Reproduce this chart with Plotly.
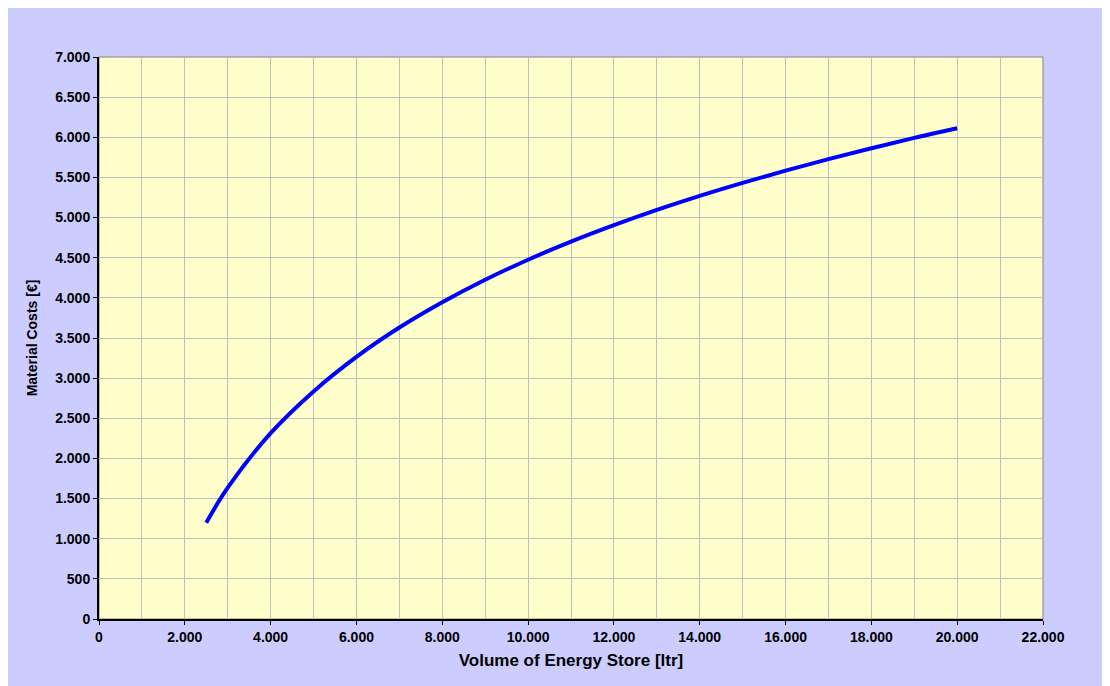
import plotly.graph_objects as go

# Data
volume_ltr = [2500, 3000, 4000, 5000, 6000, 7000, 8000, 9000, 10000, 11000,
              12000, 13000, 14000, 15000, 16000, 17000, 18000, 19000, 20000]
material_costs = [1200, 1635, 2315, 2835, 3265, 3630, 3945, 4225, 4475, 4700,
                  4905, 5095, 5270, 5432, 5585, 5728, 5863, 5992, 6113]

x_tick_values = list(range(0, 22001, 2000))
y_tick_values = list(range(0, 7001, 500))


def fmt(v):
    return f"{v:,}".replace(",", ".")


x_tick_text = [fmt(v) for v in x_tick_values]
y_tick_text = [fmt(v) for v in y_tick_values]

W, H = 1102, 678
L, R, T, B = 91, 67, 49, 67

FONT = "Liberation Sans, Arial, sans-serif"

fig = go.Figure()
fig.add_trace(go.Scatter(
    x=volume_ltr, y=material_costs, mode="lines",
    line=dict(color="#0000FF", width=4, shape="spline", smoothing=1.0),
    hoverinfo="x+y", showlegend=False,
))

shapes = [
    dict(type="rect", xref="paper", yref="paper",
         x0=0, x1=1, y0=0, y1=1,
         line=dict(color="#808080", width=1), layer="below"),
]

fig.update_layout(
    width=W, height=H,
    margin=dict(l=L, r=R, t=T, b=B),
    paper_bgcolor="#CCCCFF",
    plot_bgcolor="#FFFFCC",
    font=dict(family=FONT, color="black"),
    shapes=shapes,
    showlegend=False,
)

fig.update_xaxes(
    range=[0, 22000],
    tickmode="array", tickvals=x_tick_values, ticktext=x_tick_text,
    tickfont=dict(family=FONT, size=14, color="black", weight="bold"),
    ticks="outside", ticklen=4, tickcolor="black", tickwidth=1,
    showline=True, linecolor="black", linewidth=2,
    showgrid=True, gridcolor="#C0C0C0", gridwidth=1,
    minor=dict(tickmode="linear", tick0=0, dtick=1000, showgrid=True,
               gridcolor="#C0C0C0", gridwidth=1, ticks=""),
    zeroline=False,
    title=dict(text="Volume of Energy Store [ltr]",
               font=dict(family=FONT, size=17, color="black", weight="bold"),
               standoff=10),
)

fig.update_yaxes(
    range=[0, 7000],
    tickmode="array", tickvals=y_tick_values, ticktext=y_tick_text,
    tickfont=dict(family=FONT, size=14, color="black", weight="bold"),
    ticks="outside", ticklen=4, tickcolor="black", tickwidth=1,
    showline=True, linecolor="black", linewidth=2,
    showgrid=True, gridcolor="#C0C0C0", gridwidth=1,
    zeroline=False,
    title=dict(text="Material Costs [€]",
               font=dict(family=FONT, size=14, color="black", weight="bold"),
               standoff=14),
)

fig.write_html("out.html",
               post_script="document.documentElement.style.overflow='hidden';"
                           "document.body.style.overflow='hidden';")
